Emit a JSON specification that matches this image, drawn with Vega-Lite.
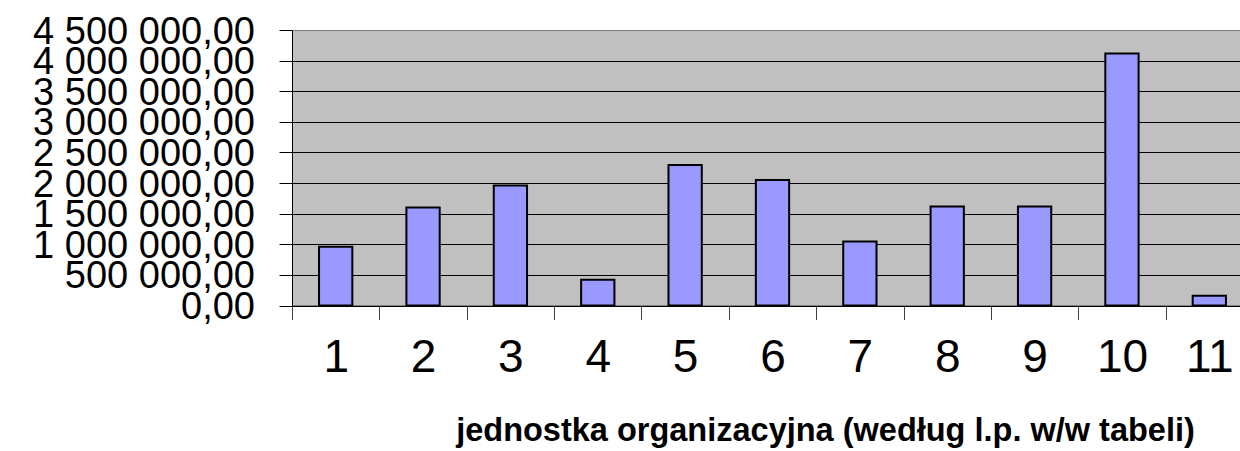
{
  "$schema": "https://vega.github.io/schema/vega-lite/v6.json",
  "width": 948,
  "height": 275.6,
  "autosize": {"type": "none"},
  "padding": {"left": 292, "top": 30, "right": 0, "bottom": 145.4},
  "background": "white",
  "config": {
    "locale": {"number": {"decimal": ",", "thousands": " ", "grouping": [3], "currency": ["", ""]}},
    "view": {"fill": "#C0C0C0", "stroke": null},
    "font": "Liberation Sans"
  },
  "data": {
    "values": [
      {"lp": 1, "kwota": 960000},
      {"lp": 2, "kwota": 1603000},
      {"lp": 3, "kwota": 1962000},
      {"lp": 4, "kwota": 421000},
      {"lp": 5, "kwota": 2296000},
      {"lp": 6, "kwota": 2051000},
      {"lp": 7, "kwota": 1045000},
      {"lp": 8, "kwota": 1619000},
      {"lp": 9, "kwota": 1619000},
      {"lp": 10, "kwota": 4116000},
      {"lp": 11, "kwota": 159000}
    ]
  },
  "mark": {"type": "bar", "fill": "#9999FF", "stroke": "black", "strokeWidth": 2, "width": {"band": 0.381}},
  "encoding": {
    "x": {
      "field": "lp",
      "type": "ordinal",
      "scale": {"paddingInner": 0, "paddingOuter": 0, "range": [0, 961]},
      "axis": {
        "tickBand": "extent",
        "tickSize": 14,
        "tickColor": "#404040",
        "domainColor": "black",
        "labelFontSize": 46,
        "labelPadding": 16,
        "labelAngle": 0,
        "labelColor": "black",
        "labelFont": "Liberation Sans",
        "grid": false,
        "title": "jednostka organizacyjna (według l.p. w/w tabeli)",
        "titleFont": "Liberation Sans",
        "titleFontSize": 32.5,
        "titleFontWeight": "bold",
        "titleColor": "black",
        "titleX": 533,
        "titleY": 135,
        "titleAlign": "center",
        "titleBaseline": "alphabetic"
      }
    },
    "y": {
      "field": "kwota",
      "type": "quantitative",
      "scale": {"domain": [0, 4500000], "nice": false},
      "axis": {
        "values": [0, 500000, 1000000, 1500000, 2000000, 2500000, 3000000, 3500000, 4000000, 4500000],
        "format": ",.2f",
        "title": null,
        "labelFont": "Liberation Sans",
        "labelFontSize": 38,
        "labelLimit": 0,
        "labelColor": "black",
        "labelPadding": 24.5,
        "labelOffset": 2,
        "labelOverlap": false,
        "labelFlush": false,
        "tickSize": 13,
        "tickColor": "black",
        "domainColor": "black",
        "grid": true,
        "gridColor": {"condition": {"test": "datum.value == 4500000", "value": "#808080"}, "value": "black"},
        "gridWidth": 1,
        "gridOpacity": 1
      }
    }
  }
}
